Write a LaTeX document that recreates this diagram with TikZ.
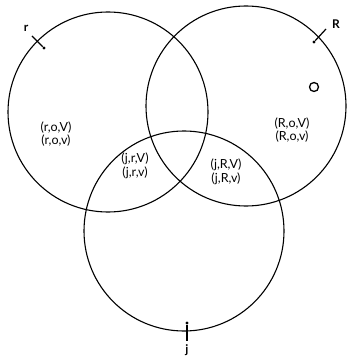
\documentclass[tikz,border=0pt]{standalone}
\usepackage{fontspec}
\setmainfont{Lato}
\begin{document}
\begin{tikzpicture}[x=1pt,y=-1pt]
\useasboundingbox (0,0) rectangle (352,358);
\tikzset{ring/.style={draw, circle, line width=1.1pt, minimum size=200pt, inner sep=0pt},
  lbl/.style={align=center, font=\fontsize{12.5}{13.5}\selectfont, inner sep=1pt},
  tip/.style={circle, fill, inner sep=0pt, minimum size=3.4pt},
  end/.style={font=\bfseries\fontsize{12}{12}\selectfont}}
\node[ring] (cr) at (108,112) {};
\node[ring] (cR) at (246,106) {};
\node[ring] (cj) at (184,231) {};
\node[lbl] (a) at (56,134) {(r,o,V)\\(r,o,v)};
\node[lbl] (b) at (135,166) {(j,r,V)\\(j,r,v)};
\node[lbl] (c) at (226,172) {(j,R,V)\\(j,R,v)};
\node[lbl] (d) at (292,130) {(R,o,V)\\(R,o,v)};
\node[draw, circle, line width=1.3pt, minimum size=9pt, inner sep=0pt] (o) at (314,87) {};
\node[tip] (tr) at (44,48) {};
\coordinate (er) at (32,36);
\node[end] (nr) at (26,28) {r};
\node[tip] (tR) at (314,42) {};
\coordinate (eR) at (326,29);
\node[end] (nR) at (336,24) {R};
\node[tip] (tj) at (187,323) {};
\coordinate (ej) at (187,341);
\node[end] (nj) at (187,350) {j};
\draw[line width=1.2pt] (tr) -- (er);
\draw[line width=1.2pt] (tR) -- (eR);
\draw[line width=1.2pt] (tj) -- (ej);
\end{tikzpicture}
\end{document}
